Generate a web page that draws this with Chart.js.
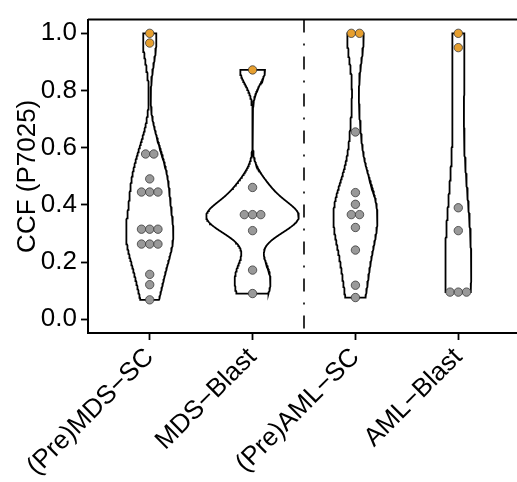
<!DOCTYPE html>
<html>
<head>
<meta charset="utf-8">
<script src="https://cdn.jsdelivr.net/npm/chart.js@4"></script>
<style>
  html, body { margin: 0; padding: 0; background: #fff; overflow: hidden; }
</style>
</head>
<body>
<canvas id="ccfChart" width="525" height="482"></canvas>
<script>
const categories = ["(Pre)MDS−SC", "MDS−Blast", "(Pre)AML−SC", "AML−Blast"];
const greyValues = [
  [0.578, 0.578, 0.491, 0.445, 0.445, 0.445, 0.315, 0.315, 0.315, 0.263, 0.263, 0.263, 0.157, 0.121, 0.068],
  [0.461, 0.366, 0.366, 0.366, 0.31, 0.172, 0.09],
  [0.655, 0.443, 0.402, 0.366, 0.366, 0.321, 0.242, 0.119, 0.076],
  [0.39, 0.31, 0.095, 0.095, 0.095],
];
const orangeValues = [
  [1.0, 0.966],
  [0.872],
  [1.0, 1.0],
  [1.0, 0.95],
];
const yTicks = [0, 0.2, 0.4, 0.6, 0.8, 1.0];
const dividerAt = 2.5;

const FONT = "'Liberation Sans', Arial, sans-serif";

// gaussian KDE, bandwidth like R's bw.nrd0
function quantile7(sorted, p) {
  const h = (sorted.length - 1) * p;
  const lo = Math.floor(h);
  const hi = Math.min(lo + 1, sorted.length - 1);
  return sorted[lo] + (h - lo) * (sorted[hi] - sorted[lo]);
}
function bwNrd0(x) {
  const n = x.length;
  const mean = x.reduce((a, b) => a + b, 0) / n;
  const sd = Math.sqrt(x.reduce((a, b) => a + (b - mean) ** 2, 0) / (n - 1));
  const s = [...x].sort((a, b) => a - b);
  const iqr = quantile7(s, 0.75) - quantile7(s, 0.25);
  let lo = Math.min(sd, iqr / 1.34);
  if (!(lo > 0)) lo = sd || Math.abs(s[0]) || 1;
  return 0.9 * lo * Math.pow(n, -0.2);
}
function kde(x, bw, y) {
  let sum = 0;
  for (const xi of x) {
    const z = (y - xi) / bw;
    sum += Math.exp(-0.5 * z * z);
  }
  return sum / (x.length * bw * Math.sqrt(2 * Math.PI));
}

const N = 256;
const groups = categories.map((c, i) => {
  const all = greyValues[i].concat(orangeValues[i]);
  const bw = bwNrd0(all);
  const ymin = Math.min(...all);
  const ymax = Math.max(...all);
  const ys = [], ds = [];
  for (let k = 0; k < N; k++) {
    const y = ymin + (ymax - ymin) * k / (N - 1);
    ys.push(y);
    ds.push(kde(all, bw, y));
  }
  return { ys, ds };
});
const maxDensity = Math.max(...groups.map(g => Math.max(...g.ds)));

const violinSets = groups.map((g, i) => {
  const cx = i + 1;
  const hw = g.ds.map(d => 0.45 * d / maxDensity);
  const pts = [];
  for (let k = 0; k < N; k++) pts.push({ x: cx - hw[k], y: g.ys[k] });
  for (let k = N - 1; k >= 0; k--) pts.push({ x: cx + hw[k], y: g.ys[k] });
  pts.push(pts[0]);
  return {
    data: pts,
    showLine: true,
    borderColor: "#000",
    borderWidth: 1.8,
    pointRadius: 0,
    fill: false,
    tension: 0,
    order: 2,
  };
});

// simple side-by-side placement for tied values
const step = 0.08;
function placePoints() {
  const grey = [], orange = [];
  categories.forEach((c, i) => {
    const all = greyValues[i].map(v => ({ v, col: "g" }))
      .concat(orangeValues[i].map(v => ({ v, col: "o" })));
    const counts = {};
    all.forEach(p => { counts[p.v] = (counts[p.v] || 0) + 1; });
    const seen = {};
    all.forEach(p => {
      const m = counts[p.v];
      const k = seen[p.v] || 0;
      seen[p.v] = k + 1;
      const pt = { x: i + 1 + (k - (m - 1) / 2) * step, y: p.v };
      (p.col === "g" ? grey : orange).push(pt);
    });
  });
  return { grey, orange };
}
const placed = placePoints();

const framePlugin = {
  id: "frame",
  afterDatasetsDraw(chart) {
    const { ctx, chartArea, scales } = chart;
    ctx.save();
    ctx.strokeStyle = "#000";
    ctx.lineWidth = 2;
    ctx.beginPath();
    ctx.moveTo(chartArea.left, chartArea.top);
    ctx.lineTo(chartArea.right, chartArea.top);
    ctx.stroke();
    const xd = scales.x.getPixelForValue(dividerAt);
    ctx.lineWidth = 1.6;
    ctx.setLineDash([13, 11, 2, 11]);
    ctx.beginPath();
    ctx.moveTo(xd, chartArea.top);
    ctx.lineTo(xd, chartArea.bottom);
    ctx.stroke();
    ctx.restore();
  },
};

new Chart(document.getElementById("ccfChart"), {
  type: "scatter",
  data: {
    datasets: [
      {
        data: placed.orange,
        backgroundColor: "#E69F2F",
        borderColor: "#3a3a3a",
        borderWidth: 0.8,
        pointRadius: 4.2,
        order: 0,
      },
      {
        data: placed.grey,
        backgroundColor: "#999999",
        borderColor: "#3a3a3a",
        borderWidth: 0.8,
        pointRadius: 4.2,
        order: 1,
      },
      ...violinSets,
    ],
  },
  options: {
    responsive: false,
    animation: false,
    layout: { padding: { top: 13, left: 0, right: 0, bottom: 0 } },
    plugins: {
      legend: { display: false },
      tooltip: { enabled: false },
    },
    scales: {
      x: {
        type: "linear",
        min: 0.4,
        max: 4.6,
        afterBuildTicks: (s) => { s.ticks = categories.map((c, i) => ({ value: i + 1 })); },
        afterFit: (s) => { s.height = 149; },
        ticks: {
          autoSkip: false,
          minRotation: 45,
          maxRotation: 45,
          padding: 2,
          color: "#000",
          font: { family: FONT, size: 26 },
          callback: (v) => categories[v - 1],
        },
        grid: {
          drawOnChartArea: false,
          tickLength: 7,
          tickWidth: 1.8,
          tickColor: "#000",
        },
        border: { color: "#000", width: 2 },
      },
      y: {
        min: -0.048,
        max: 1.048,
        afterBuildTicks: (s) => { s.ticks = yTicks.map(v => ({ value: v })); },
        afterFit: (s) => { s.width = 88; },
        ticks: {
          padding: 4,
          color: "#000",
          font: { family: FONT, size: 26 },
          callback: (v) => v.toFixed(1),
        },
        grid: {
          drawOnChartArea: false,
          tickLength: 7,
          tickWidth: 1.8,
          tickColor: "#000",
        },
        border: { color: "#000", width: 2 },
        title: {
          display: true,
          text: "CCF (P7025)",
          color: "#000",
          font: { family: FONT, size: 26 },
          padding: { top: 12, bottom: 0 },
        },
      },
    },
  },
  plugins: [framePlugin],
});
</script>
</body>
</html>
